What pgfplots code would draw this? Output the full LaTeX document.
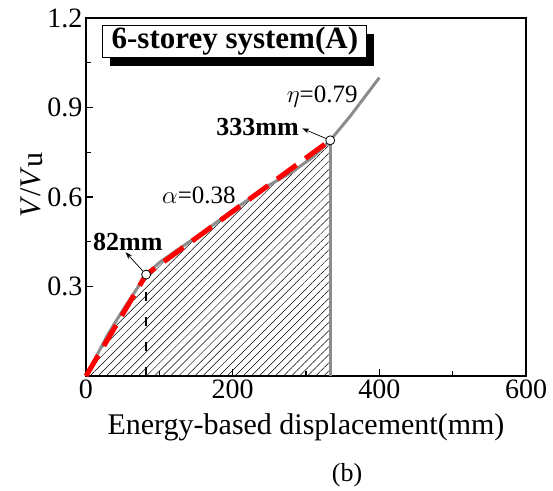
\documentclass[border=0pt]{standalone}
\usepackage{fontspec}
\setmainfont{Liberation Serif}
\usepackage{pgfplots}
\pgfplotsset{compat=1.18}
\usetikzlibrary{patterns.meta,shadows,arrows.meta}
\definecolor{curvegrey}{HTML}{8C8C8C}

\begin{document}
\begin{tikzpicture}
\begin{axis}[
  scale only axis, width=440pt, height=358pt,
  xmin=0, xmax=600, ymin=0, ymax=1.2,
  xtick={0,200,400,600}, ytick={0.3,0.6,0.9,1.2},
  minor x tick num=1, minor y tick num=1,
  tick align=inside, tickpos=left,
  major tick length=7pt, minor tick length=5pt,
  axis line style={line width=1.3pt}, every tick/.style={line width=1.1pt, black},
  tick label style={font=\fontsize{28}{28}\selectfont},
  /pgf/number format/assume math mode=true,
  /pgf/number format/fixed, /pgf/number format/precision=1,
  xlabel={Energy-based displacement(mm)},
  ylabel={\textit{V}/\textit{V}\raisebox{-2pt}{u}},
  label style={font=\fontsize{30}{30}\selectfont},
  xlabel style={yshift=-8pt},
  ylabel style={yshift=-2pt, xshift=12pt},
  clip=false]
  % hatched area under the curve
  \addplot[draw=none, pattern={Lines[angle=45,distance=5.7pt,line width=0.5pt]}]
    coordinates {(0,0)(30,0.14)(50,0.22)(70,0.295)(82,0.34)(100,0.38)(120,0.415)(150,0.465)
                 (200,0.555)(250,0.64)(282,0.685)(310,0.735)(333,0.79)(333,0)} -- cycle;
  % grey capacity curve
  \addplot[curvegrey, line width=3pt]
    coordinates {(0,0)(30,0.14)(50,0.22)(70,0.295)(82,0.34)(100,0.38)(120,0.415)(150,0.465)
                 (200,0.555)(250,0.64)(282,0.685)(310,0.735)(333,0.79)(360,0.87)(400,1.0)};
  \addplot[curvegrey, line width=3pt] coordinates {(333,0)(333,0.79)};
  \addplot[black, line width=2.4pt, dash pattern=on 9pt off 16pt] coordinates {(82,0)(82,0.29)};
  % idealised bilinear line
  \addplot[red, line width=5pt, dash pattern=on 24pt off 11pt]
    coordinates {(0,0)(82,0.34)(333,0.79)};
  \addplot[only marks, mark=*, mark size=4.5pt, mark options={fill=white, draw=black, line width=0.8pt}]
    coordinates {(82,0.34)(333,0.79)};
  \draw[-{Stealth[length=7pt,width=5pt]}, line width=0.7pt] (axis cs:82,0.34) -- (axis cs:54,0.415);
  \draw[-{Stealth[length=7pt,width=5pt]}, line width=0.7pt] (axis cs:333,0.79) -- (axis cs:295,0.83);
  \node[font=\bfseries\fontsize{26}{26}\selectfont] at (axis cs:57,0.45) {82mm};
  \node[font=\bfseries\fontsize{26}{26}\selectfont, anchor=east] at (axis cs:295,0.834) {333mm};
  \node[font=\fontsize{25}{25}\selectfont] at (axis cs:154,0.607) {$\alpha$=0.38};
  \node[font=\fontsize{25}{25}\selectfont] at (axis cs:322,0.936) {$\eta$=0.79};
  \node[draw, line width=1pt, fill=white, font=\bfseries\fontsize{31}{31}\selectfont,
        minimum width=264pt, minimum height=32pt, inner sep=0pt,
        drop shadow={shadow xshift=7pt, shadow yshift=-8pt, fill=black, opacity=1}]
        at (axis cs:203,1.121) {6-storey system(A)};
  \coordinate (O) at (rel axis cs:0,0);
\end{axis}
\node[font=\fontsize{26}{26}\selectfont] at ([xshift=261pt,yshift=-99pt]O) {(b)};
\path (O) ++(-86pt,-108pt) rectangle ++(553pt,484pt);
\end{tikzpicture}
\end{document}
